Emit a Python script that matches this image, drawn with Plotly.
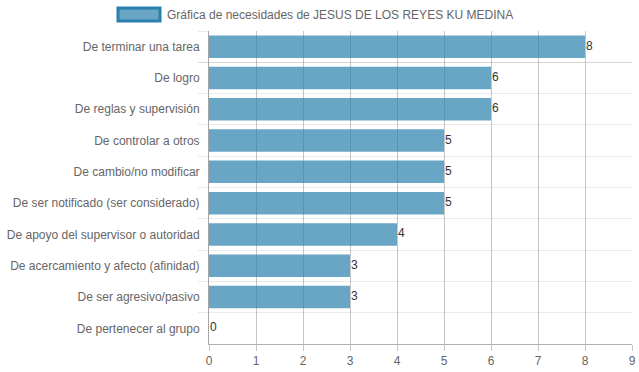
import plotly.graph_objects as go

categories = [
    "De terminar una tarea",
    "De logro",
    "De reglas y supervisión",
    "De controlar a otros",
    "De cambio/no modificar",
    "De ser notificado (ser considerado)",
    "De apoyo del supervisor o autoridad",
    "De acercamiento y afecto (afinidad)",
    "De ser agresivo/pasivo",
    "De pertenecer al grupo",
]
values = [8, 6, 6, 5, 5, 5, 4, 3, 3, 0]
series_name = "Gráfica de necesidades de JESUS DE LOS REYES KU MEDINA"
x_ticks = list(range(0, 10))

bar_fill = "rgba(41,128,174,0.7)"
bar_border = "rgb(41,128,174)"
font_family = "Liberation Sans, Arial, Helvetica, sans-serif"

fig = go.Figure(
    go.Bar(
        x=values,
        y=categories,
        orientation="h",
        marker=dict(color=bar_fill, line=dict(width=0)),
        name=series_name,
        showlegend=False,
    )
)

# value labels at bar ends
for cat, v in zip(categories, values):
    fig.add_annotation(
        x=v, y=cat, xref="x", yref="y",
        text=str(v), showarrow=False,
        xanchor="left", yanchor="middle", xshift=-1, yshift=1,
        font=dict(color="#333333", size=12, family=font_family),
    )

W, H = 639, 372
L, T, R, B = 209, 31, 7, 28
pw = W - L - R
ph = H - T - B

def px_to_paper_x(px):
    return (px - L) / pw

def py_to_paper_y(py):
    return (H - B - py) / ph

fig.add_shape(
    type="rect",
    xref="paper", yref="paper",
    x0=px_to_paper_x(118), x1=px_to_paper_x(160),
    y0=py_to_paper_y(21), y1=py_to_paper_y(8),
    fillcolor=bar_fill,
    line=dict(color=bar_border, width=3),
)
fig.add_annotation(
    xref="paper", yref="paper",
    x=px_to_paper_x(165), y=py_to_paper_y(14.5),
    xanchor="left", yanchor="middle",
    text=series_name, showarrow=False,
    font=dict(size=12, color="#666666", family=font_family),
)

fig.update_layout(
    width=W, height=H,
    margin=dict(l=L, r=R, t=T, b=B),
    paper_bgcolor="white",
    plot_bgcolor="white",
    font=dict(family=font_family, size=12, color="#666666"),
    bargap=0.28,
    showlegend=False,
)
fig.update_xaxes(
    range=[0, 9],
    tickvals=x_ticks,
    ticktext=[str(t) for t in x_ticks],
    showgrid=True,
    gridcolor="rgba(0,0,0,0.22)",
    gridwidth=1,
    zeroline=False,
    showline=True,
    linecolor="rgba(0,0,0,0.3)",
    ticks="outside",
    ticklen=6,
    tickcolor="rgba(0,0,0,0.22)",
    tickfont=dict(size=12, color="#666666"),
    ticklabeloverflow="allow",
    automargin=False,
)
fig.update_yaxes(
    categoryorder="array",
    categoryarray=categories,
    autorange="reversed",
    tickson="boundaries",
    showgrid=True,
    gridcolor="rgba(0,0,0,0.08)",
    gridwidth=1,
    showline=True,
    linecolor="rgba(0,0,0,0.35)",
    ticks="outside",
    ticklen=10,
    tickcolor="rgba(0,0,0,0.08)",
    tickfont=dict(size=12, color="#666666"),
    ticklabelstandoff=6,
    automargin=False,
)

fig.write_html(
    "out.html",
    config={"displayModeBar": False},
    post_script="document.body.style.margin='0';document.body.style.overflow='hidden';",
)
